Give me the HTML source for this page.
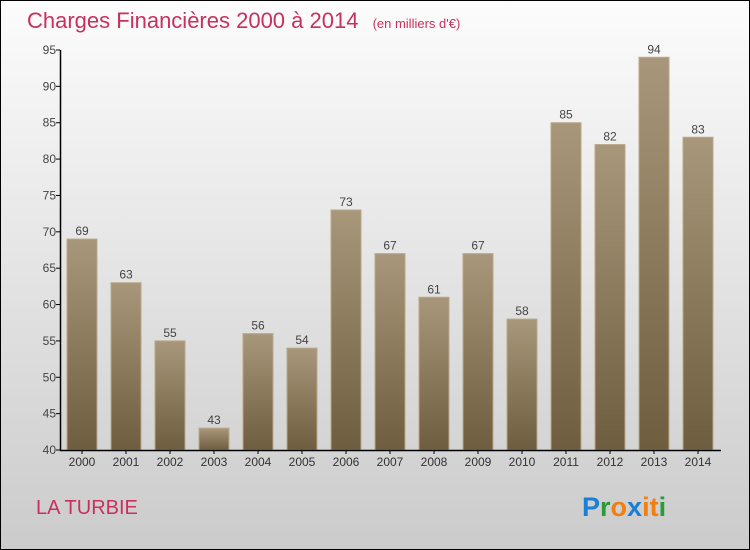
<!DOCTYPE html>
<html><head><meta charset="utf-8"><style>
body{margin:0;width:750px;height:550px;overflow:hidden;font-family:"Liberation Sans",sans-serif}
#frame{position:absolute;left:0;top:0;width:748px;height:548px;border:1px solid #000;background:linear-gradient(#fcfcfc,#cbcbcb)}
</style></head><body>
<div id="frame">
<svg width="750" height="550" style="position:absolute;left:-1px;top:-1px">
<defs><linearGradient id="bg" x1="0" y1="0" x2="0" y2="1"><stop offset="0" stop-color="#a8977a"/><stop offset="1" stop-color="#6e5d3e"/></linearGradient></defs>
<text x="27" y="28" font-size="22" fill="#c8305e">Charges Financières 2000 à 2014 <tspan font-size="13" dx="8">(en milliers d'€)</tspan></text>
<g id="bars"></g>
<g id="axes"></g>
<text x="36" y="514" font-size="20" fill="#c8305e">LA TURBIE</text>
<text x="582" y="516" font-size="27" font-weight="bold"><tspan fill="#1a7fd6">P</tspan><tspan fill="#2a9a3a">r</tspan><tspan fill="#f07f10">o</tspan><tspan fill="#1a7fd6">x</tspan><tspan fill="#f07f10">i</tspan><tspan fill="#f07f10">t</tspan><tspan fill="#2a9a3a">i</tspan></text>
</svg></div>
<script>
const years=["2000","2001","2002","2003","2004","2005","2006","2007","2008","2009","2010","2011","2012","2013","2014"];
const values=[69,63,55,43,56,54,73,67,61,67,58,85,82,94,83];
const yTicks=[40,45,50,55,60,65,70,75,80,85,90,95];
const NS="http://www.w3.org/2000/svg";
const y=v=>450-(v-40)*400/55;
const x=i=>82+i*44;
function mk(t,a,p){const e=document.createElementNS(NS,t);for(const k in a)e.setAttribute(k,a[k]);p.appendChild(e);return e;}
const B=document.getElementById('bars'),A=document.getElementById('axes');
values.forEach((v,i)=>{
 const r=mk('rect',{x:x(i)-15,y:y(v),width:30,height:450-y(v),fill:'url(#bg)',stroke:'#b8a888','stroke-width':1},B);
 
 
 const t=mk('text',{x:x(i),y:y(v)-4,'text-anchor':'middle','font-size':12,fill:'#444'},B);t.textContent=v;
 
 
 const xl=mk('text',{x:x(i),y:466,'text-anchor':'middle','font-size':12,fill:'#333'},A);xl.textContent=years[i];
 
 
 mk('line',{x1:x(i),x2:x(i),y1:450,y2:454,stroke:'#000'},A);
});
yTicks.forEach(v=>{
 mk('line',{x1:56,x2:60,y1:y(v),y2:y(v),stroke:'#000'},A);
 const t=mk('text',{x:56,y:y(v)+4,'text-anchor':'end','font-size':12,fill:'#444'},A);t.textContent=v;
 
 
});
const ya=mk('line',{x1:60.5,x2:60.5,y1:50,y2:451,stroke:'#000','stroke-width':1.5},A);


const xa=mk('line',{x1:60,x2:721,y1:450.5,y2:450.5,stroke:'#000','stroke-width':1.5},A);


</script>
</body></html>
